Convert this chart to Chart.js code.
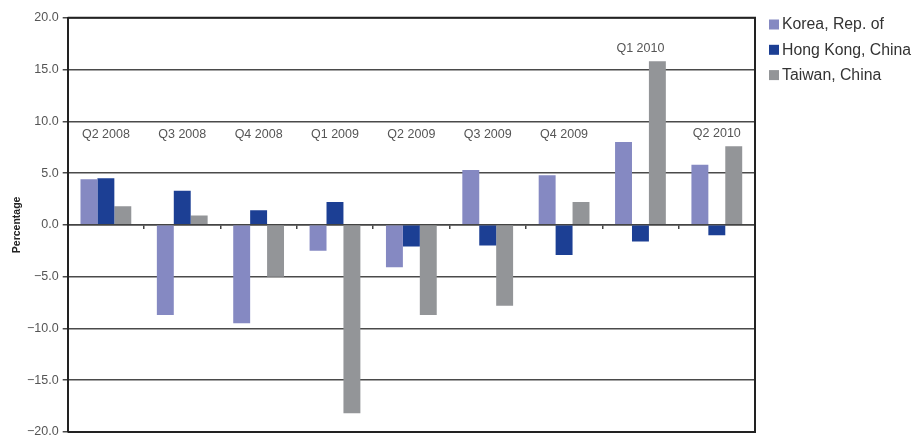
<!DOCTYPE html>
<html>
<head>
<meta charset="utf-8">
<script src="https://cdn.jsdelivr.net/npm/chart.js@4/dist/chart.umd.min.js"></script>
<style>
html,body{margin:0;padding:0;background:#fff;}
#wrap{width:917px;height:437px;position:relative;}
</style>
</head>
<body>
<div id="wrap"><canvas id="c" width="917" height="437"></canvas></div>
<script>
const categories = ["Q2 2008","Q3 2008","Q4 2008","Q1 2009","Q2 2009","Q3 2009","Q4 2009","Q1 2010","Q2 2010"];
const korea   = [4.4, -8.7, -9.5, -2.5, -4.1, 5.3, 4.8, 8.0, 5.8];
const hongKong = [4.5, 3.3, 1.4, 2.2, -2.1, -2.0, -2.9, -1.6, -1.0];
const taiwan  = [1.8, 0.9, -5.0, -18.2, -8.7, -7.8, 2.2, 15.8, 7.6];
const seriesNames = ["Korea, Rep. of", "Hong Kong, China", "Taiwan, China"];
const yTicks = [-20, -15, -10, -5, 0, 5, 10, 15, 20];

const colors = ["#8589c2", "#1c3f94", "#939598"];
const FONT = "'Liberation Sans', Arial, sans-serif";

const frame = {
  id: 'frame',
  afterDraw(chart) {
    const {ctx, chartArea: a} = chart;
    ctx.save();
    ctx.strokeStyle = '#222';
    ctx.lineWidth = 2;
    ctx.beginPath();
    ctx.moveTo(a.left, a.top); ctx.lineTo(a.right, a.top); ctx.lineTo(a.right, a.bottom); ctx.lineTo(a.left, a.bottom);
    ctx.stroke();
    ctx.restore();
  }
};

const catLabels = {
  id: 'catLabels',
  afterDatasetsDraw(chart) {
    const {ctx} = chart;
    const xs = chart.scales.x, ys = chart.scales.y;
    ctx.save();
    ctx.font = "12.5px " + FONT;
    ctx.fillStyle = '#555';
    ctx.textAlign = 'center';
    ctx.textBaseline = 'middle';
    chart.data.labels.forEach((lab, i) => {
      const mx = Math.max(...chart.data.datasets.map(d => d.data[i]));
      const v = Math.max(8.76, mx + 1.2);
      ctx.fillText(lab, xs.getPixelForValue(i), ys.getPixelForValue(v));
    });
    ctx.restore();
  }
};

const legendPlugin = {
  id: 'customLegend',
  afterDraw(chart) {
    const {ctx} = chart;
    ctx.save();
    ctx.font = "15.8px " + FONT;
    ctx.textBaseline = 'middle';
    ctx.textAlign = 'left';
    chart.data.datasets.forEach((d, i) => {
      const cy = 24.5 + i * 25.3;
      ctx.fillStyle = d.backgroundColor;
      ctx.fillRect(769, cy - 5, 10, 10);
      ctx.fillStyle = '#333';
      ctx.fillText(d.label, 782, cy + 0.5);
    });
    ctx.restore();
  }
};

new Chart(document.getElementById('c'), {
  type: 'bar',
  data: {
    labels: categories,
    datasets: [
      {label: seriesNames[0], data: korea, backgroundColor: colors[0]},
      {label: seriesNames[1], data: hongKong, backgroundColor: colors[1]},
      {label: seriesNames[2], data: taiwan, backgroundColor: colors[2]}
    ]
  },
  options: {
    responsive: false,
    animation: false,
    devicePixelRatio: 1,
    layout: {padding: {top: 17.7, bottom: 5, left: 0, right: 162}},
    datasets: {bar: {categoryPercentage: 0.665, barPercentage: 1.0}},
    plugins: {legend: {display: false}, tooltip: {enabled: false}},
    scales: {
      x: {
        position: {y: 0},
        ticks: {display: false},
        grid: {drawOnChartArea: false, drawTicks: true, tickLength: 3.5, color: '#444', lineWidth: 1.5, offset: true},
        border: {display: true, color: '#444', width: 1.5}
      },
      y: {
        min: -20, max: 20,
        afterBuildTicks(s) { s.ticks = yTicks.map(v => ({value: v})); },
        afterFit(s) { s.width = 67.7; s.paddingTop = 0; s.paddingBottom = 0; },
        ticks: {
          font: {family: FONT, size: 12.5},
          color: '#555',
          padding: 4,
          callback: v => (v < 0 ? '\u2212' + Math.abs(v).toFixed(1) : v.toFixed(1))
        },
        grid: {color: '#4a4a4a', lineWidth: 1.5, tickLength: 5, drawTicks: true},
        border: {display: true, color: '#222', width: 2},
        title: {display: true, text: 'Percentage', font: {family: FONT, size: 10.5, weight: 'bold'}, color: '#222', padding: {top: 11, bottom: 4}}
      }
    }
  },
  plugins: [frame, catLabels, legendPlugin]
});
</script>
</body>
</html>
